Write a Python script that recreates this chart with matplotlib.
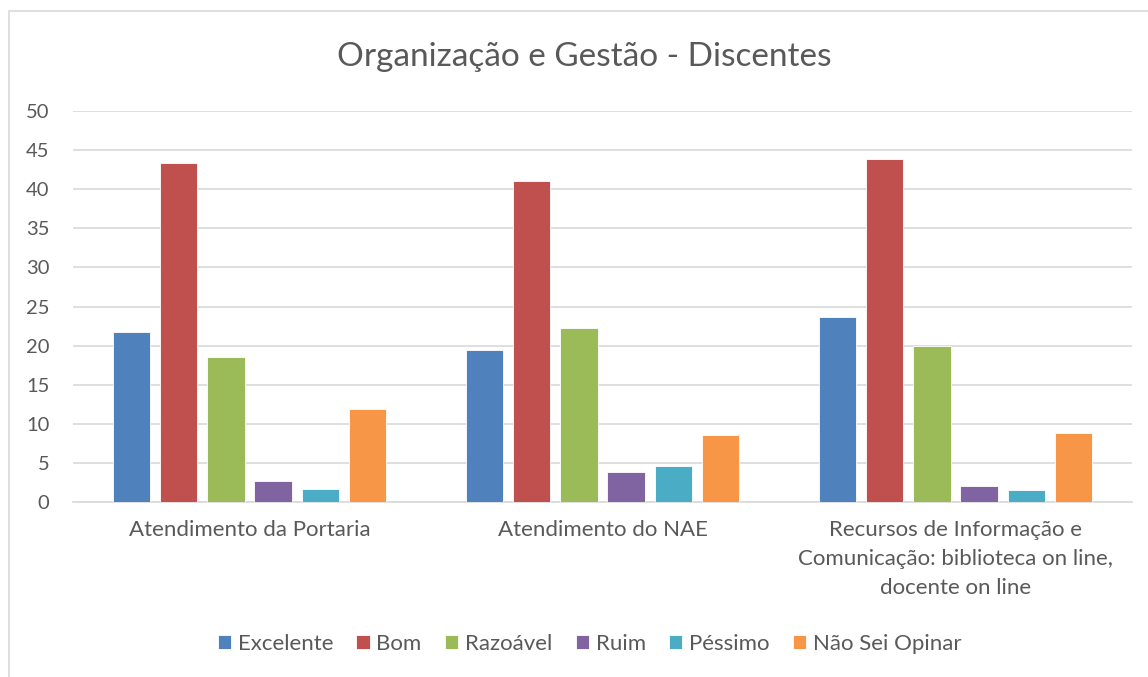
import numpy as np
import matplotlib
matplotlib.use("Agg")
import matplotlib.pyplot as plt
from matplotlib.patches import Rectangle

categorias = ["Atendimento da Portaria",
              "Atendimento do NAE",
              "Recursos de Informação e\nComunicação: biblioteca on line,\ndocente on line"]
series = ["Excelente", "Bom", "Razoável", "Ruim", "Péssimo", "Não Sei Opinar"]
excelente = [21.8, 19.5, 23.6]
bom = [43.4, 41.0, 43.9]
razoavel = [18.5, 22.3, 19.9]
ruim = [2.7, 3.8, 2.1]
pessimo = [1.7, 4.6, 1.5]
nao_sei = [11.9, 8.6, 8.8]
valores = [excelente, bom, razoavel, ruim, pessimo, nao_sei]
cores = ["#4F81BD", "#C0504D", "#9BBB59", "#8064A2", "#4BACC6", "#F79646"]

plt.rcParams['font.family'] = ['Lato', 'DejaVu Sans']
texto = "#595959"

fig = plt.figure(figsize=(11.48, 6.77), dpi=100)
ax = fig.add_axes([73 / 1148, 1 - 502 / 677, (1132 - 73) / 1148, (502 - 111) / 677])

x = np.arange(len(categorias))
passo = 0.8 / len(series)
largura = passo * 0.79
for i, (nome, vals, cor) in enumerate(zip(series, valores, cores)):
    pos = x - 0.4 + passo * (i + 0.5)
    ax.bar(pos, vals, width=largura, color=cor, label=nome,
           edgecolor="white", linewidth=0.6, zorder=3)

ax.set_xlim(-0.5, len(categorias) - 0.5)
ax.set_ylim(0, 50)
ax.set_yticks(range(0, 51, 5))
ax.yaxis.grid(True, color="#D9D9D9", linewidth=1.2, zorder=0)
ax.set_axisbelow(True)
for s in ["top", "right", "left"]:
    ax.spines[s].set_visible(False)
ax.spines["bottom"].set_color("#D9D9D9")
ax.spines["bottom"].set_linewidth(1.2)
ax.tick_params(axis="both", length=0, labelcolor=texto)
ax.tick_params(axis="y", pad=17, labelsize=14.5)
ax.tick_params(axis="x", pad=13, labelsize=16)
ax.set_xticks(x)
ax.set_xticklabels(categorias, linespacing=1.55)

fig.text(0.509, 1 - 57 / 677, "Organização e Gestão - Discentes",
         ha="center", va="center", fontsize=24, color=texto)

fig.legend(loc="center", bbox_to_anchor=(0.5135, 1 - 644 / 677), ncol=6,
           frameon=False, fontsize=16, labelcolor=texto, handlelength=0.6,
           handleheight=0.6, handletextpad=0.3, columnspacing=1.05)

fig.patches.append(Rectangle((9 / 1148, -0.1), 1.2, 1 - 11 / 677 + 0.1,
                             transform=fig.transFigure, fill=False,
                             edgecolor="#D9D9D9", linewidth=1.2))

fig.savefig("out.png", dpi=100, facecolor="white")
